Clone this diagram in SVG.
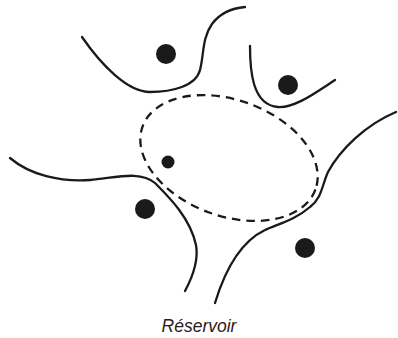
<svg xmlns="http://www.w3.org/2000/svg" width="398" height="338" viewBox="0 0 398 338">
<style>
.c{fill:none;stroke:#1a1a1a;stroke-width:2.3;stroke-linecap:round}
.d{fill:none;stroke:#1a1a1a;stroke-width:2.3;stroke-dasharray:8.5 6}
.p{fill:#1a1a1a}
.t{font-family:"Liberation Sans",Arial,sans-serif;font-style:italic;font-size:17.5px;fill:#2b1a1e}
</style>
<rect width="398" height="338" fill="#fff"/>
<g id="boundaries">
<path class="c" d="M82,37 C102,66 128,92 150,92 C172,92 196,86 200,70 C204,55 202,38 212,24 C221,12 233,8 245,7"/>
<path class="c" d="M250,46 C250,70 252,105 278,107 C295,108 315,93 335,80"/>
<path class="c" d="M396,112 C365,125 340,150 328,172 C322,185 322,198 310,207 C295,220 278,224 265,230 C240,242 225,270 215,303"/>
<path class="c" d="M10,158 C30,175 60,182 90,180 C115,178 140,170 155,183 C170,198 190,218 196,245 C199,262 192,278 185,291"/>
</g>
<g id="reservoir">
<ellipse class="d" cx="229" cy="158" rx="92" ry="58" transform="rotate(20 229 158)"/>
</g>
<g id="grains">
<circle class="p" cx="166" cy="54" r="10"/>
<circle class="p" cx="288" cy="85" r="10"/>
<circle class="p" cx="168" cy="162" r="6.5"/>
<circle class="p" cx="145" cy="209" r="10"/>
<circle class="p" cx="305" cy="248" r="10"/>
</g>
<g id="label">
<text class="t" x="199" y="332" text-anchor="middle">Réservoir</text>
</g>
</svg>
